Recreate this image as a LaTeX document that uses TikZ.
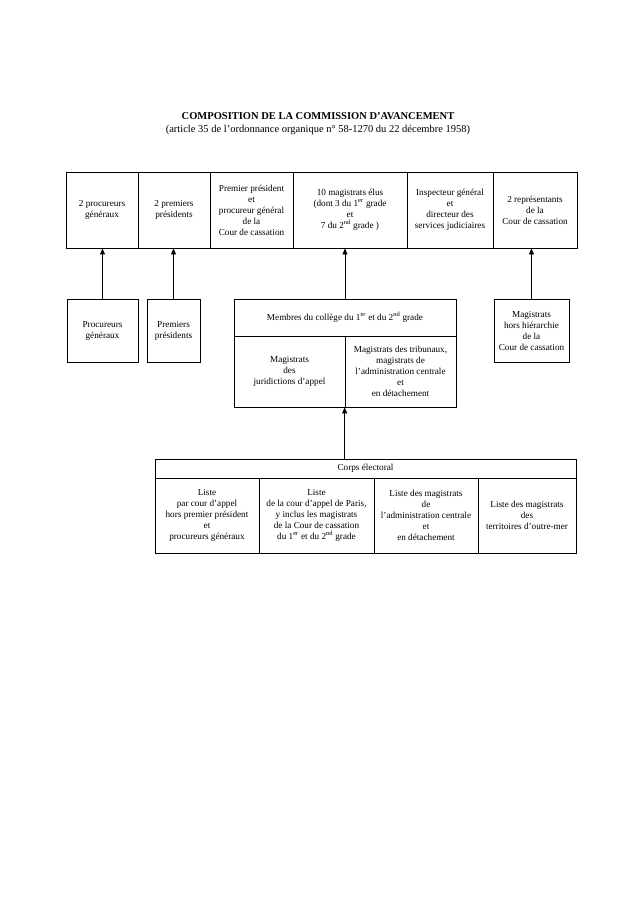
\documentclass[tikz,border=0pt]{standalone}
\usepackage{fontspec}
\setmainfont{Liberation Serif}
\usetikzlibrary{arrows.meta}
\begin{document}
\begin{tikzpicture}[x=1pt, y=-1pt, font=\fontsize{9.2}{11}\selectfont,
  box/.style={draw, line width=0.9pt, inner sep=0pt, align=center, minimum height=76pt},
  sub/.style={draw, line width=0.7pt, inner sep=0pt, align=center},
  up/.style={-{Triangle[length=6pt, width=5pt]}, line width=0.7pt}]
  \useasboundingbox (0,0) rectangle (629,922);
  \node[font=\fontsize{10.5}{12}\selectfont\bfseries] (titre) at (318,116) {COMPOSITION DE LA COMMISSION D'AVANCEMENT};
  \node[font=\fontsize{10.5}{12}\selectfont] (soustitre) at (318,130) {(article 35 de l'ordonnance organique n° 58-1270 du 22 décembre 1958)};
  % commission
  \node[box, minimum width=72pt] (g1) at (102,210) {2 procureurs\\généraux};
  \node[box, minimum width=72pt] (g2) at (174,210) {2 premiers\\présidents};
  \node[box, minimum width=83pt] (g3) at (251.5,210) {Premier président\\et\\procureur général\\de la\\Cour de cassation};
  \node[box, minimum width=114pt] (g4) at (350,210) {10 magistrats élus\\(dont 3 du 1\textsuperscript{er} grade\\et\\7 du 2\textsuperscript{nd} grade )};
  \node[box, minimum width=86pt] (g5) at (450,210) {Inspecteur général\\et\\directeur des\\services judiciaires};
  \node[box, minimum width=84pt] (g6) at (535,210) {2 représentants\\de la\\Cour de cassation};
  % colleges
  \node[sub, minimum width=71pt, minimum height=63pt] (p1) at (102.5,330.5) {Procureurs\\généraux};
  \node[sub, minimum width=53pt, minimum height=63pt] (p2) at (173.5,330.5) {Premiers\\présidents};
  \node[sub, minimum width=222pt, minimum height=37pt] (m) at (345,317.5) {Membres du collège du 1\textsuperscript{er} et du 2\textsuperscript{nd} grade};
  \node[sub, minimum width=111pt, minimum height=71pt] (m1) at (289.5,371.5) {Magistrats\\des\\juridictions d'appel};
  \node[sub, minimum width=111pt, minimum height=71pt] (m2) at (400.5,371.5) {Magistrats des tribunaux,\\magistrats de\\l'administration centrale\\et\\en détachement};
  \node[sub, minimum width=75pt, minimum height=63pt] (p4) at (531.5,330.5) {Magistrats\\hors hiérarchie\\de la\\Cour de cassation};
  % corps electoral
  \node[sub, minimum width=421pt, minimum height=19pt] (ce) at (365.5,468.5) {Corps électoral};
  \node[sub, minimum width=104pt, minimum height=75pt] (l1) at (207,515.5) {Liste\\par cour d'appel\\hors premier président\\et\\procureurs généraux};
  \node[sub, minimum width=115pt, minimum height=75pt] (l2) at (316.5,515.5) {Liste\\de la cour d'appel de Paris,\\y inclus les magistrats\\de la Cour de cassation\\du 1\textsuperscript{er} et du 2\textsuperscript{nd} grade};
  \node[sub, minimum width=104pt, minimum height=75pt] (l3) at (426,515.5) {Liste des magistrats\\de\\l'administration centrale\\et\\en détachement};
  \node[sub, minimum width=98pt, minimum height=75pt] (l4) at (527,515.5) {Liste des magistrats\\des\\territoires d'outre-mer};
  % fleches
  \foreach \a/\b in {p1/g1, p2/g2, m/g4, p4/g6}
    \draw[up] (\a.north) -- (\a.north |- \b.south);
  \draw[up] (m2.south west |- ce.north) -- (m2.south west);
\end{tikzpicture}
\end{document}
